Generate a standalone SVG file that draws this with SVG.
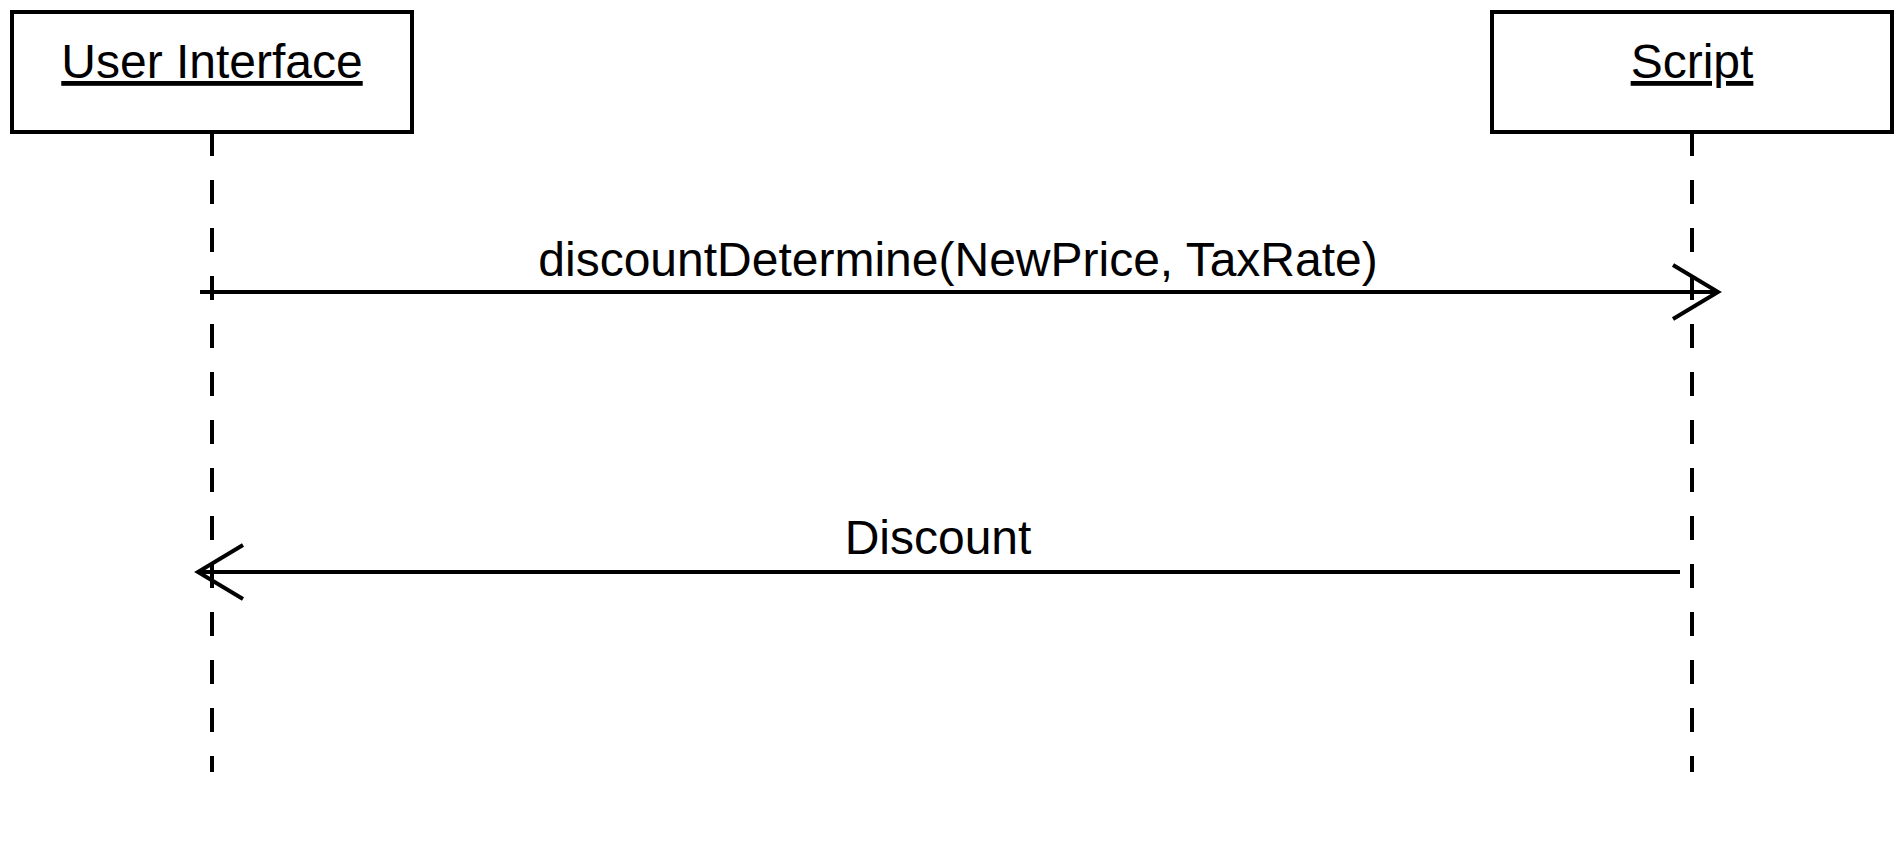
<svg xmlns="http://www.w3.org/2000/svg" width="1900" height="860" viewBox="0 0 1900 860">
<style>
.box{fill:#fff;stroke:#000;stroke-width:4}
.life{stroke:#000;stroke-width:4;stroke-dasharray:24 24;fill:none}
.msg{stroke:#000;stroke-width:4;fill:none}
.head{stroke:#000;stroke-width:4;fill:none}
.t{font-family:"Liberation Sans",Arial,sans-serif;font-size:48px;fill:#000;text-anchor:middle}
.u{text-decoration:underline}
</style>
<rect width="1900" height="860" fill="#fff"/>
<g id="node-ui">
<rect class="box" x="12" y="12" width="400" height="120"/>
<text class="t u" x="212" y="78">User Interface</text>
<line class="life" x1="212" y1="132" x2="212" y2="772"/>
</g>
<g id="node-script">
<rect class="box" x="1492" y="12" width="400" height="120"/>
<text class="t u" x="1692" y="78">Script</text>
<line class="life" x1="1692" y1="132" x2="1692" y2="772"/>
</g>
<g id="connectors">
<g id="msg1">
<line class="msg" x1="200" y1="292" x2="1716" y2="292"/>
<polyline class="head" points="1673,265 1718,292 1673,319"/>
<text class="t" x="958" y="276">discountDetermine(NewPrice, TaxRate)</text>
</g>
<g id="msg2">
<line class="msg" x1="1680" y1="572" x2="200" y2="572"/>
<polyline class="head" points="243,545 198,572 243,599"/>
<text class="t" x="938" y="554">Discount</text>
</g>
</g>
</svg>
